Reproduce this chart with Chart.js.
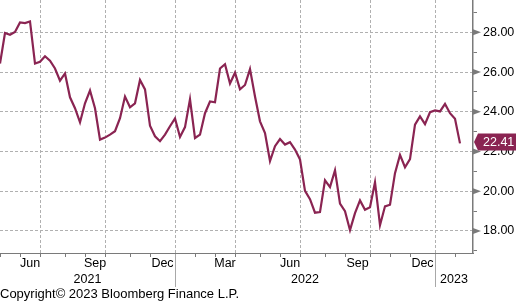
<!DOCTYPE html>
<html>
<head>
<meta charset="utf-8">
<script src="https://cdn.jsdelivr.net/npm/chart.js@4/dist/chart.umd.min.js"></script>
<style>
  html, body { margin: 0; padding: 0; background: #fff; overflow: hidden; }
  canvas { display: block; }
</style>
</head>
<body>
<canvas id="chart" width="518" height="305"></canvas>
<script>
// weekly values, first point = first week of May 2021
const values = [
  26.43, 27.97, 27.88, 28.02, 28.50, 28.47, 28.55, 26.43, 26.52, 26.80,
  26.57, 26.18, 25.57, 25.93, 24.73, 24.18, 23.47, 24.43, 25.07, 24.18,
  22.60, 22.70, 22.85, 23.02, 23.68, 24.77, 24.23, 24.43, 25.60, 25.13,
  23.30, 22.77, 22.52, 22.85, 23.27, 23.67, 22.73, 23.23, 24.63, 22.68,
  22.85, 23.93, 24.52, 24.48, 26.18, 26.40, 25.43, 25.97, 25.13, 25.35,
  26.15, 24.77, 23.52, 22.93, 21.52, 22.27, 22.63, 22.35, 22.47, 22.10,
  21.60, 20.02, 19.60, 18.92, 18.95, 20.55, 20.21, 21.05, 19.38, 19.00,
  18.04, 18.90, 19.54, 19.07, 19.19, 20.45, 18.29, 19.24, 19.32, 20.91,
  21.83, 21.21, 21.62, 23.35, 23.77, 23.38, 23.98, 24.07, 24.02, 24.40,
  23.93, 23.65, 22.41
];

// week index at which each month starts
const monthNames = ['May', 'Jun', 'Jul', 'Aug', 'Sep', 'Oct', 'Nov', 'Dec',
  'Jan', 'Feb', 'Mar', 'Apr', 'May', 'Jun', 'Jul', 'Aug', 'Sep', 'Oct', 'Nov', 'Dec',
  'Jan', 'Feb'];
const monthStarts = [0, 4, 8, 13, 17, 21, 26, 30, 35, 39, 43, 47, 52, 56, 60, 65, 69, 74, 78, 82, 87, 91];
const shownMonths = ['Jun', 'Sep', 'Dec', 'Mar'];
const quarterMonths = ['Jan', 'Apr', 'Jul', 'Oct'];
const years = ['2021', '2022', '2023'];
const yTicks = [17, 18, 19, 20, 21, 22, 23, 24, 25, 26, 27, 28, 29];

const xMax = 94.6;
const yMin = 16.89;
const yMax = 29.63;

const LINE = '#8A2452';
const GRID = '#b0b0b0';
const AXIS = '#7a7a7a';
const FONT = "'Liberation Sans', Arial, sans-serif";
const NONE = 'rgba(0,0,0,0)';

// label / grid positions derived from the month starts
const monthLabelTicks = [];
monthNames.forEach((m, i) => {
  if (shownMonths.includes(m) && i + 1 < monthStarts.length) {
    monthLabelTicks.push({ value: (monthStarts[i] + monthStarts[i + 1]) / 2, label: m });
  }
});
const quarterStarts = monthStarts.filter((s, i) => quarterMonths.includes(monthNames[i]));
const yearStarts = monthStarts.filter((s, i) => monthNames[i] === 'Jan');
const yearBounds = [0, ...yearStarts, xMax];
const yearTicks = years.map((y, i) => ({ value: (yearBounds[i] + yearBounds[i + 1]) / 2, label: y }));

function fixHeight(h) {
  return s => { s.height = h; s.paddingLeft = 0; s.paddingRight = 0; };
}

const decorations = {
  id: 'decorations',
  afterDraw(chart) {
    const ctx = chart.ctx;
    const y = chart.scales.y;
    const left = y.left;
    ctx.save();
    // arrow heads on the labelled ticks
    ctx.fillStyle = AXIS;
    yTicks.filter(v => v % 2 === 0).forEach(v => {
      const py = y.getPixelForValue(v);
      ctx.beginPath();
      ctx.moveTo(left, py - 3);
      ctx.lineTo(left + 8, py);
      ctx.lineTo(left, py + 3);
      ctx.closePath();
      ctx.fill();
    });
    // last value tag
    const last = values[values.length - 1];
    const py = y.getPixelForValue(last) - 1.5;
    ctx.fillStyle = LINE;
    ctx.beginPath();
    ctx.moveTo(left + 1, py);
    ctx.lineTo(left + 5, py - 8.5);
    ctx.lineTo(chart.width - 2, py - 8.5);
    ctx.lineTo(chart.width - 2, py + 8.5);
    ctx.lineTo(left + 5, py + 8.5);
    ctx.closePath();
    ctx.fill();
    ctx.fillStyle = '#fff';
    ctx.font = '12.5px ' + FONT;
    ctx.textBaseline = 'middle';
    ctx.fillText(last.toFixed(2), left + 10, py + 0.5);
    ctx.restore();
  }
};

const tickFont = { family: FONT, size: 12.5 };

new Chart(document.getElementById('chart'), {
  type: 'line',
  data: {
    datasets: [{
      data: values.map((v, i) => ({ x: i, y: v })),
      borderColor: LINE,
      borderWidth: 2.2,
      pointRadius: 0,
      tension: 0,
      fill: false
    }]
  },
  options: {
    responsive: false,
    animation: false,
    devicePixelRatio: 1,
    layout: { padding: 0 },
    plugins: {
      legend: { display: false },
      tooltip: { enabled: false },
      title: {
        display: true,
        text: 'Copyright\u00a9 2023 Bloomberg Finance L.P.',
        position: 'bottom',
        align: 'start',
        color: '#000',
        font: { family: FONT, size: 13, weight: 'normal' },
        padding: { top: 0, bottom: 3 }
      }
    },
    scales: {
      x: {
        type: 'linear', position: 'bottom', weight: 0, min: 0, max: xMax,
        afterBuildTicks: s => { s.ticks = monthStarts.map(v => ({ value: v })); },
        afterFit: fixHeight(0),
        ticks: { callback: () => '', autoSkip: false, maxRotation: 0, padding: 0 },
        grid: {
          color: c => (c.tick && quarterStarts.includes(c.tick.value)) ? GRID : NONE,
          lineWidth: 1,
          drawTicks: true,
          tickLength: 4,
          tickColor: AXIS,
          tickWidth: 1
        },
        border: { display: true, color: AXIS, width: 1, dash: [3, 2] }
      },
      xs: {
        type: 'linear', position: 'bottom', weight: 1, min: 0, max: xMax,
        afterBuildTicks: s => { s.ticks = yearStarts.map(v => ({ value: v })); },
        afterFit: fixHeight(0),
        ticks: { callback: () => '', autoSkip: false, maxRotation: 0, padding: 0 },
        grid: { drawOnChartArea: false, drawTicks: true, tickLength: 34, tickColor: '#a8a8a8', tickWidth: 1 },
        border: { display: false }
      },
      xm: {
        type: 'linear', position: 'bottom', weight: 2, min: 0, max: xMax,
        afterBuildTicks: s => { s.ticks = monthLabelTicks.map(t => ({ value: t.value })); },
        afterFit: fixHeight(19),
        ticks: {
          callback: (v, i) => monthLabelTicks[i].label,
          autoSkip: false, maxRotation: 0, minRotation: 0, padding: 3.5,
          color: '#000', font: tickFont
        },
        grid: { drawOnChartArea: false, drawTicks: false },
        border: { display: false }
      },
      xy: {
        type: 'linear', position: 'bottom', weight: 3, min: 0, max: xMax,
        afterBuildTicks: s => { s.ticks = yearTicks.map(t => ({ value: t.value })); },
        afterFit: fixHeight(14.4),
        ticks: {
          callback: (v, i) => yearTicks[i].label,
          autoSkip: false, maxRotation: 0, minRotation: 0, padding: 0,
          color: '#000', font: tickFont
        },
        grid: { drawOnChartArea: false, drawTicks: false },
        border: { display: false }
      },
      y: {
        type: 'linear', position: 'right', min: yMin, max: yMax,
        afterBuildTicks: s => { s.ticks = yTicks.map(v => ({ value: v })); },
        afterFit: s => { s.width = 45; s.paddingTop = 0; s.paddingBottom = 0; },
        ticks: {
          callback: v => v % 2 === 0 ? v.toFixed(2) : '',
          autoSkip: false, padding: 6, color: '#000', font: tickFont
        },
        grid: {
          color: c => (c.tick && c.tick.value % 2 === 0) ? GRID : NONE,
          lineWidth: 1,
          tickLength: 4,
          tickColor: AXIS,
          tickWidth: 1
        },
        border: { color: AXIS, width: 1.5, dash: [3, 2] }
      }
    }
  },
  plugins: [decorations]
});
</script>
</body>
</html>
